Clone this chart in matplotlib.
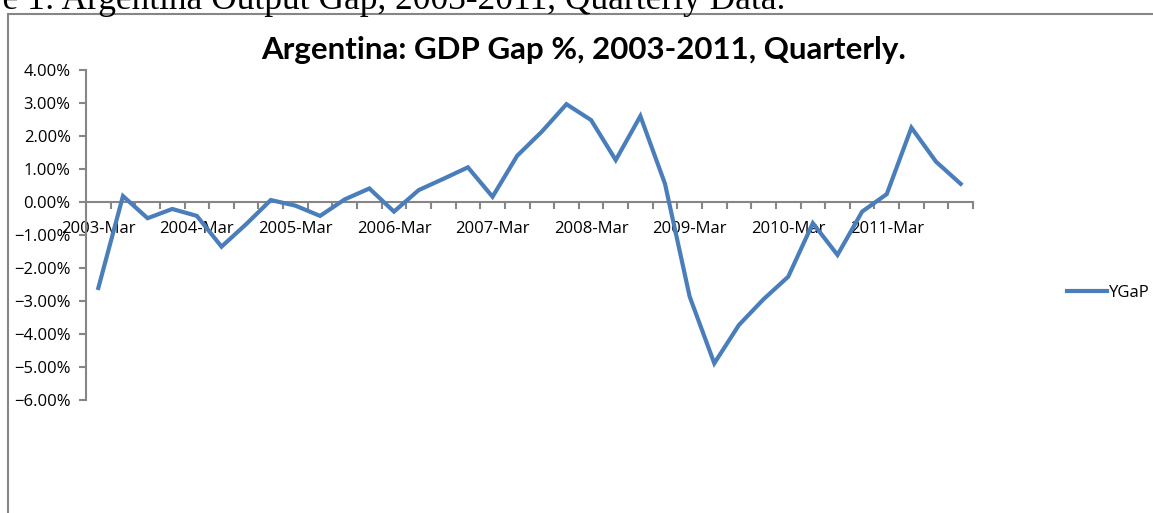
import matplotlib.pyplot as plt
from matplotlib.patches import Rectangle
from matplotlib.ticker import FixedLocator, PercentFormatter

# quarterly output gap, % (2003 Q1 .. 2011 Q4)
gap = [-2.61, 0.17, -0.50, -0.22, -0.43, -1.36, -0.68, 0.05,
       -0.12, -0.43, 0.07, 0.40, -0.30, 0.35, 0.69, 1.04,
       0.15, 1.39, 2.12, 2.95, 2.47, 1.26, 2.59, 0.54,
       -2.87, -4.89, -3.73, -2.95, -2.27, -0.65, -1.61, -0.30,
       0.23, 2.24, 1.21, 0.54]
years = list(range(2003, 2012))
year_labels = [f"{y}-Mar" for y in years]

W, H = 1153, 513
fig = plt.figure(figsize=(W / 100, H / 100), dpi=100)
grey = "#868686"
blue = "#4A7EBB"

# caption of the document, cut at the top like the reference
fig.text(785 / W, (H - 9) / H, "Figure 1: Argentina Output Gap, 2003-2011, Quarterly Data.",
         family="Liberation Serif", fontsize=25.5, ha="right", va="baseline")

# chart frame (runs off the bottom/right)
fig.patches.append(Rectangle((7.5 / W, -0.1), 1.2, (H - 13.5) / H + 0.1,
                             transform=fig.transFigure, fill=False,
                             edgecolor=grey, linewidth=1.5))

fig.text(584 / W, (H - 50) / H, "Argentina: GDP Gap %, 2003-2011, Quarterly.",
         family="Lato", fontweight="bold", fontsize=22.5, ha="center", va="center")

ax = fig.add_axes([86 / W, 113 / H, (973 - 86) / W, (400 - 69.5) / H])
x = list(range(len(gap)))
ax.plot(x, gap, color=blue, linewidth=3.0, solid_joinstyle="miter", label="YGaP", zorder=3)

ax.set_xlim(-0.5, len(gap) - 0.5)
ax.set_ylim(-6, 4)
ax.set_yticks(range(-6, 5))
ax.yaxis.set_major_formatter(PercentFormatter(decimals=2))

for s in ("top", "right"):
    ax.spines[s].set_visible(False)
ax.spines["bottom"].set_position(("data", 0))
ax.spines["bottom"].set_color(grey)
ax.spines["left"].set_color(grey)
ax.spines["bottom"].set_linewidth(1.5)
ax.spines["left"].set_linewidth(1.5)

ax.set_xticks([4 * i for i in range(len(years))])
ax.set_xticklabels(year_labels)
ax.xaxis.set_minor_locator(FixedLocator([i - 0.5 for i in range(len(gap) + 1)]))
ax.tick_params(axis="x", which="major", length=0, pad=14, labelsize=12)
ax.tick_params(axis="x", which="minor", length=5, width=1.5, color=grey, direction="out")
ax.tick_params(axis="y", length=5, width=1.5, color=grey, labelsize=12, pad=6)
for lab in ax.get_xticklabels() + ax.get_yticklabels():
    lab.set_family("Open Sans")

leg = fig.legend(loc="center left", bbox_to_anchor=(1052 / W, (H - 293) / H),
                 frameon=False, handlelength=2.4, handletextpad=0.1,
                 prop={"family": "Open Sans", "size": 12})

fig.savefig("out.png", dpi=100)
